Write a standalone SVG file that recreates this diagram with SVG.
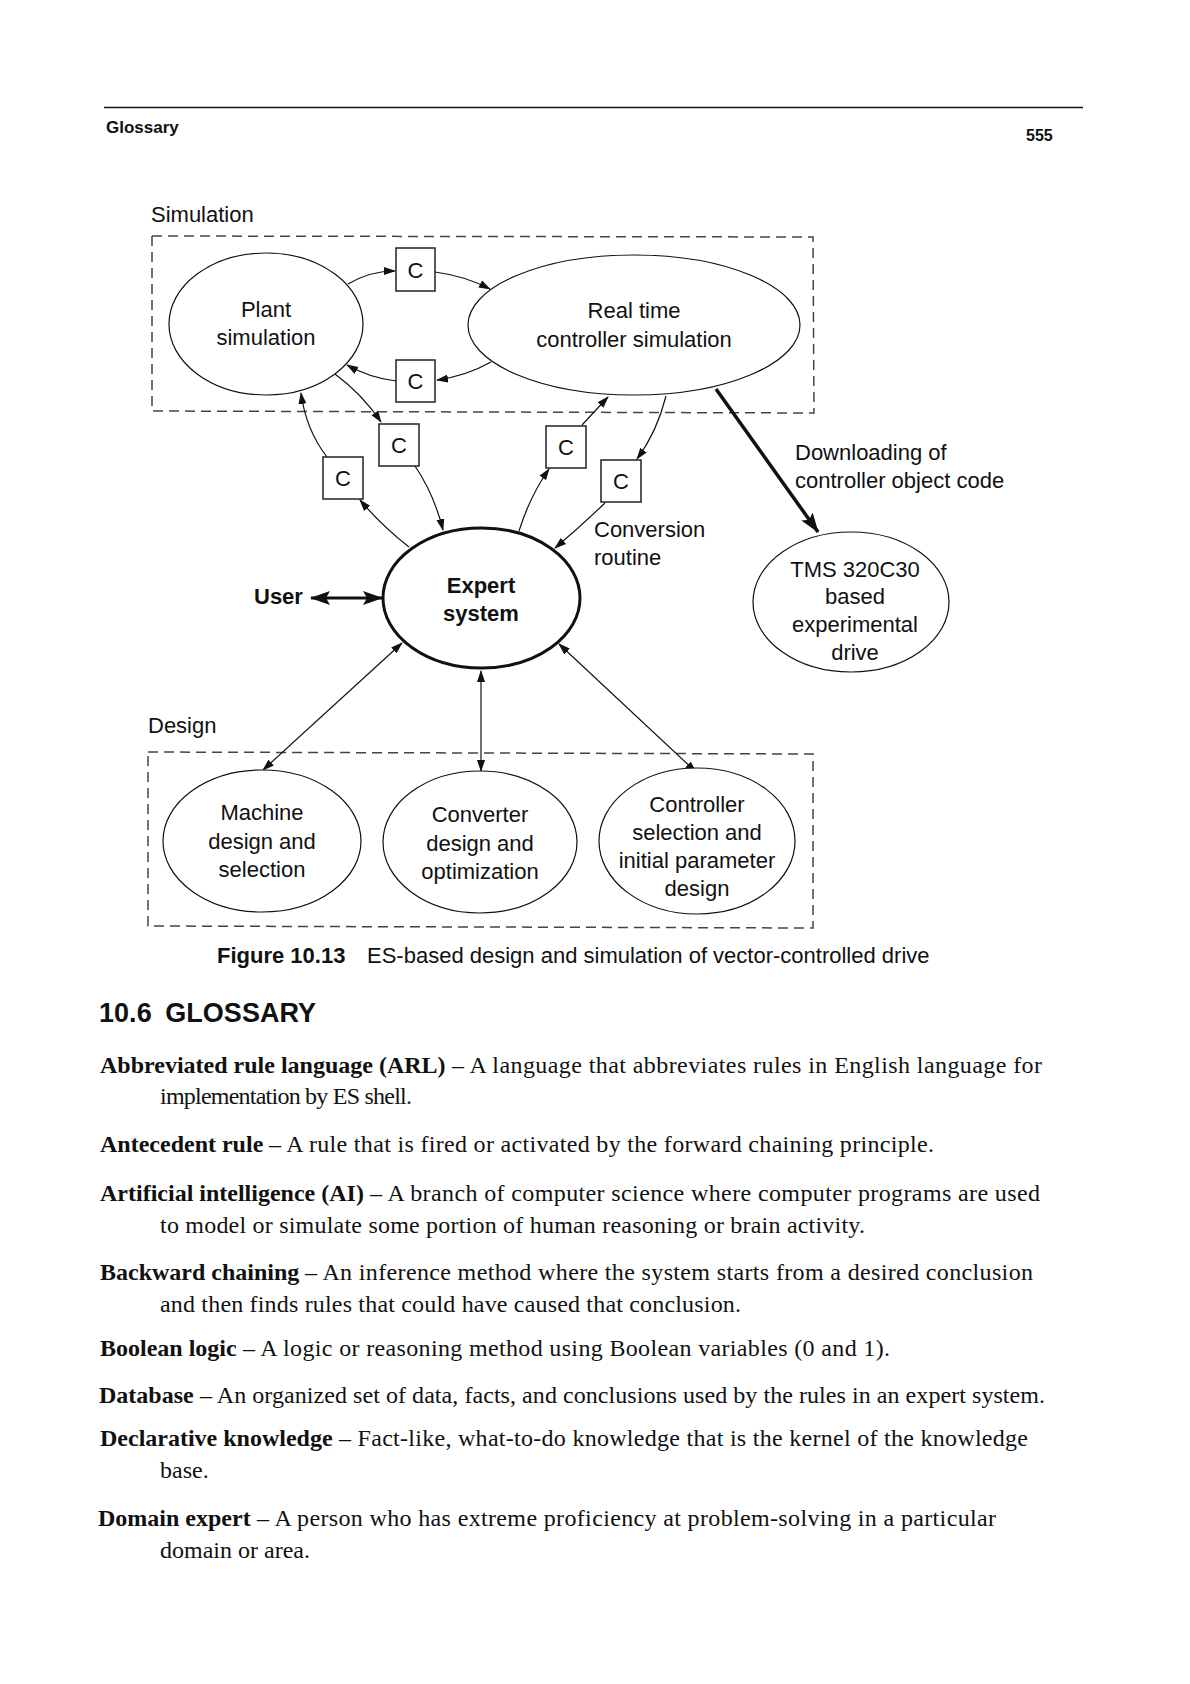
<svg xmlns="http://www.w3.org/2000/svg" width="1190" height="1684" viewBox="0 0 1190 1684">
<defs>
<style>
.s{font-family:"Liberation Sans",Arial,sans-serif;font-size:22px;fill:#111}
.b{font-weight:bold}
.m{text-anchor:middle}
.g{font-family:"Liberation Serif","Times New Roman",serif;font-size:24px;fill:#111}
.n{fill:#fff;stroke:#111;stroke-width:1.2}
.cb{fill:#fff;stroke:#222;stroke-width:1.5}
.dash{fill:none;stroke:#444;stroke-width:1.5;stroke-dasharray:10 6}
.c{fill:none;stroke:#111;stroke-width:1.2}
</style>
<marker id="ah" markerWidth="12" markerHeight="10" refX="11" refY="5" orient="auto-start-reverse" markerUnits="userSpaceOnUse">
<path d="M0,1 L12,5 L0,9 Z" fill="#111"/>
</marker>
<marker id="ahb" markerWidth="20" markerHeight="14" refX="19" refY="7" orient="auto-start-reverse" markerUnits="userSpaceOnUse">
<path d="M0,0 L20,7 L0,14 L4,7 Z" fill="#111"/>
</marker>
</defs>
<rect width="1190" height="1684" fill="#fff"/>

<!-- header -->
<line x1="104" y1="107.5" x2="1083" y2="107.5" stroke="#111" stroke-width="1.6"/>
<text class="s b" x="106" y="133" style="font-size:17px">Glossary</text>
<text class="s b" x="1026" y="141" style="font-size:16px">555</text>

<!-- group boxes -->
<g id="simulation-group">
<text class="s" x="151" y="222">Simulation</text>
<path class="dash" d="M152,236 L813,237 L814,413 L152,411 Z"/>
</g>
<g id="design-group">
<text class="s" x="148" y="733">Design</text>
<path class="dash" d="M148,752 L813,754 L813,928 L148,926 Z"/>
</g>

<!-- connectors -->
<g id="connectors">
<path class="c" d="M348,284 Q370,271 395,271" marker-end="url(#ah)"/>
<path class="c" d="M435,272 Q465,276 490,289" marker-end="url(#ah)"/>
<path class="c" d="M491,362 Q466,376 437,380" marker-end="url(#ah)"/>
<path class="c" d="M396,381 Q370,378 347,365" marker-end="url(#ah)"/>
<path class="c" d="M335,374 Q362,394 381,422" marker-end="url(#ah)"/>
<path class="c" d="M415,466 Q434,494 443,530" marker-end="url(#ah)"/>
<path class="c" d="M409,547 Q382,526 360,500" marker-end="url(#ah)"/>
<path class="c" d="M327,457 Q306,430 301,393" marker-end="url(#ah)"/>
<path class="c" d="M519,531 Q530,496 549,469" marker-end="url(#ah)"/>
<path class="c" d="M582,425 L608,397" marker-end="url(#ah)"/>
<path class="c" d="M666,396 Q657,432 637,459" marker-end="url(#ah)"/>
<path class="c" d="M605,503 Q580,527 555,548" marker-end="url(#ah)"/>
<path d="M311,598 L382,598" stroke="#111" stroke-width="3" fill="none" marker-start="url(#ahb)" marker-end="url(#ahb)"/>
<path class="c" d="M402,643 L263,770" marker-start="url(#ah)" marker-end="url(#ah)"/>
<path class="c" d="M481,671 L481,771" marker-start="url(#ah)" marker-end="url(#ah)"/>
<path class="c" d="M559,644 L696,772" marker-start="url(#ah)" marker-end="url(#ah)"/>
<path d="M716,389 L818,532" stroke="#111" stroke-width="3.5" fill="none" marker-end="url(#ahb)"/>
<text class="s" x="594" y="537">Conversion</text>
<text class="s" x="594" y="565">routine</text>
<text class="s" x="795" y="460">Downloading of</text>
<text class="s" x="795" y="488">controller object code</text>
<text class="s b" x="254" y="604">User</text>
</g>

<!-- nodes -->
<g id="plant-simulation">
<ellipse class="n" cx="266" cy="324" rx="97" ry="71"/>
<text class="s m" x="266" y="317">Plant</text>
<text class="s m" x="266" y="345">simulation</text>
</g>
<g id="realtime-controller-simulation">
<ellipse class="n" cx="634" cy="325" rx="166" ry="70"/>
<text class="s m" x="634" y="318">Real time</text>
<text class="s m" x="634" y="347">controller simulation</text>
</g>
<g id="c1"><rect class="cb" x="396" y="248" width="39" height="43"/><text class="s m" x="415.5" y="278">C</text></g>
<g id="c2"><rect class="cb" x="396" y="360" width="39" height="42"/><text class="s m" x="415.5" y="389">C</text></g>
<g id="c3"><rect class="cb" x="379" y="424" width="40" height="42"/><text class="s m" x="399" y="453">C</text></g>
<g id="c4"><rect class="cb" x="323" y="457" width="40" height="42"/><text class="s m" x="343" y="486">C</text></g>
<g id="c5"><rect class="cb" x="546" y="426" width="40" height="42"/><text class="s m" x="566" y="455">C</text></g>
<g id="c6"><rect class="cb" x="601" y="460" width="40" height="42"/><text class="s m" x="621" y="489">C</text></g>
<g id="expert-system">
<ellipse cx="481.5" cy="598" rx="98.5" ry="70" fill="#fff" stroke="#111" stroke-width="3"/>
<text class="s b m" x="481" y="593">Expert</text>
<text class="s b m" x="481" y="621">system</text>
</g>
<g id="tms-drive">
<ellipse class="n" cx="851" cy="602" rx="98" ry="70"/>
<text class="s m" x="855" y="577">TMS 320C30</text>
<text class="s m" x="855" y="604">based</text>
<text class="s m" x="855" y="632">experimental</text>
<text class="s m" x="855" y="660">drive</text>
</g>
<g id="machine-design">
<ellipse class="n" cx="262" cy="841" rx="99" ry="71"/>
<text class="s m" x="262" y="820">Machine</text>
<text class="s m" x="262" y="849">design and</text>
<text class="s m" x="262" y="877">selection</text>
</g>
<g id="converter-design">
<ellipse class="n" cx="480" cy="842" rx="97" ry="71"/>
<text class="s m" x="480" y="822">Converter</text>
<text class="s m" x="480" y="851">design and</text>
<text class="s m" x="480" y="879">optimization</text>
</g>
<g id="controller-selection">
<ellipse class="n" cx="697" cy="841" rx="98" ry="73"/>
<text class="s m" x="697" y="812">Controller</text>
<text class="s m" x="697" y="840">selection and</text>
<text class="s m" x="697" y="868">initial parameter</text>
<text class="s m" x="697" y="896">design</text>
</g>

<!-- caption -->
<text class="s b" x="217" y="963">Figure 10.13</text>
<text class="s" x="367" y="963">ES-based design and simulation of vector-controlled drive</text>

<!-- glossary -->
<text class="s b" x="99" y="1022" style="font-size:27px" word-spacing="6" textLength="217">10.6 GLOSSARY</text>
<g class="g">
<text class="b" x="100" y="1073">Abbreviated rule language (ARL)</text>
<text x="452" y="1073" textLength="590">– A language that abbreviates rules in English language for</text>
<text x="160" y="1104" textLength="252">implementation by ES shell.</text>
<text class="b" x="100" y="1152">Antecedent rule</text>
<text x="269" y="1152" textLength="665">– A rule that is fired or activated by the forward chaining principle.</text>
<text class="b" x="100" y="1201">Artificial intelligence (AI)</text>
<text x="370" y="1201" textLength="670">– A branch of computer science where computer programs are used</text>
<text x="160" y="1233" textLength="705">to model or simulate some portion of human reasoning or brain activity.</text>
<text class="b" x="100" y="1280">Backward chaining</text>
<text x="305" y="1280" textLength="728">– An inference method where the system starts from a desired conclusion</text>
<text x="160" y="1312" textLength="581">and then finds rules that could have caused that conclusion.</text>
<text class="b" x="100" y="1356">Boolean logic</text>
<text x="243" y="1356" textLength="647">– A logic or reasoning method using Boolean variables (0 and 1).</text>
<text class="b" x="99" y="1403">Database</text>
<text x="200" y="1403" textLength="845">– An organized set of data, facts, and conclusions used by the rules in an expert system.</text>
<text class="b" x="100" y="1446">Declarative knowledge</text>
<text x="339" y="1446" textLength="689">– Fact-like, what-to-do knowledge that is the kernel of the knowledge</text>
<text x="160" y="1478">base.</text>
<text class="b" x="98" y="1526">Domain expert</text>
<text x="257" y="1526" textLength="739">– A person who has extreme proficiency at problem-solving in a particular</text>
<text x="160" y="1558" textLength="150">domain or area.</text>
</g>
</svg>
